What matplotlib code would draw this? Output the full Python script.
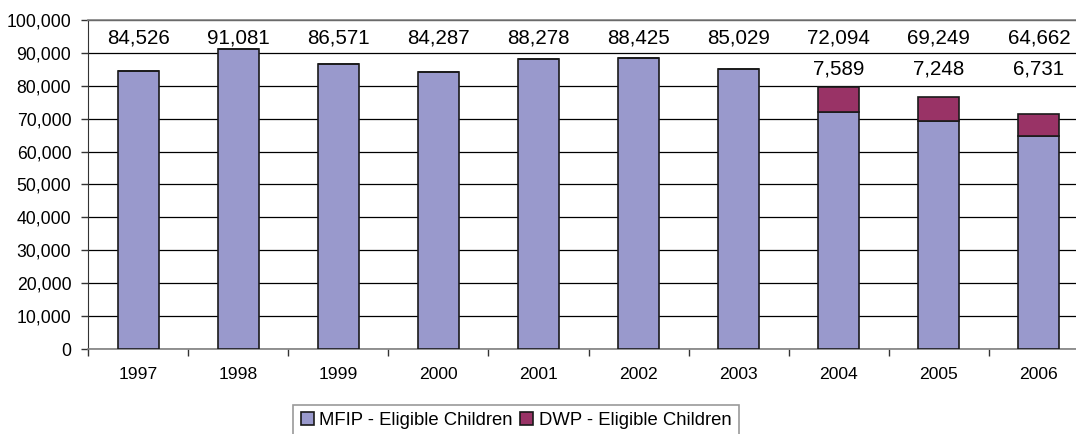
import matplotlib
matplotlib.use("Agg")
import matplotlib.pyplot as plt
from matplotlib.ticker import FuncFormatter

plt.rcParams['font.family'] = ['Liberation Sans', 'DejaVu Sans']

years = ['1997', '1998', '1999', '2000', '2001', '2002', '2003', '2004', '2005', '2006']
mfip = [84526, 91081, 86571, 84287, 88278, 88425, 85029, 72094, 69249, 64662]
dwp = [0, 0, 0, 0, 0, 0, 0, 7589, 7248, 6731]

fig = plt.figure(figsize=(10.76, 4.34), dpi=100)
ax = fig.add_axes([88/1076, 85/434, 1001/1076, 329/434])

x = list(range(len(years)))
ax.bar(x, mfip, width=0.41, color='#9999CC', edgecolor='#1a1a1a', linewidth=1.2,
       label='MFIP - Eligible Children', zorder=3)
ax.bar(x, dwp, width=0.41, bottom=mfip, color='#993366', edgecolor='#1a1a1a', linewidth=1.2,
       label='DWP - Eligible Children', zorder=3)

ax.set_xlim(-0.5, 9.5)
ax.set_ylim(0, 100000)
ax.set_yticks(range(0, 100001, 10000))
ax.yaxis.set_major_formatter(FuncFormatter(lambda v, p: f'{int(v):,}'))
ax.set_xticks(x)
ax.set_xticklabels(years)
ax.set_xticks([i - 0.5 for i in range(len(years) + 1)], minor=True)
ax.tick_params(axis='x', which='major', length=0, pad=13, labelsize=12.6)
ax.tick_params(axis='x', which='minor', length=5, width=1, color='#333333')
ax.tick_params(axis='y', length=5, width=1, color='#333333', labelsize=12.7, pad=7)

ax.grid(axis='y', color='black', linewidth=0.9, zorder=0)
ax.spines['top'].set_color('#808080')
ax.spines['top'].set_linewidth(1.2)
ax.spines['bottom'].set_color('#808080')
ax.spines['bottom'].set_linewidth(1.2)
ax.spines['left'].set_color('#333333')
ax.spines['right'].set_visible(False)

# value labels
for i in x:
    ax.text(i, 94500, f'{mfip[i]:,}', ha='center', va='center', fontsize=14.8)
    if dwp[i]:
        ax.text(i, 85200, f'{dwp[i]:,}', ha='center', va='center', fontsize=14.8)

leg = fig.legend(loc='upper center', bbox_to_anchor=(516/1076, 29/434), ncol=2,
                 frameon=True, fancybox=False, edgecolor='#808080', fontsize=13.3,
                 handlelength=0.7, handleheight=0.7, handletextpad=0.3,
                 columnspacing=0.4, borderpad=0.4, borderaxespad=0)
leg.get_frame().set_linewidth(1.2)

fig.savefig('out.png', dpi=100)
